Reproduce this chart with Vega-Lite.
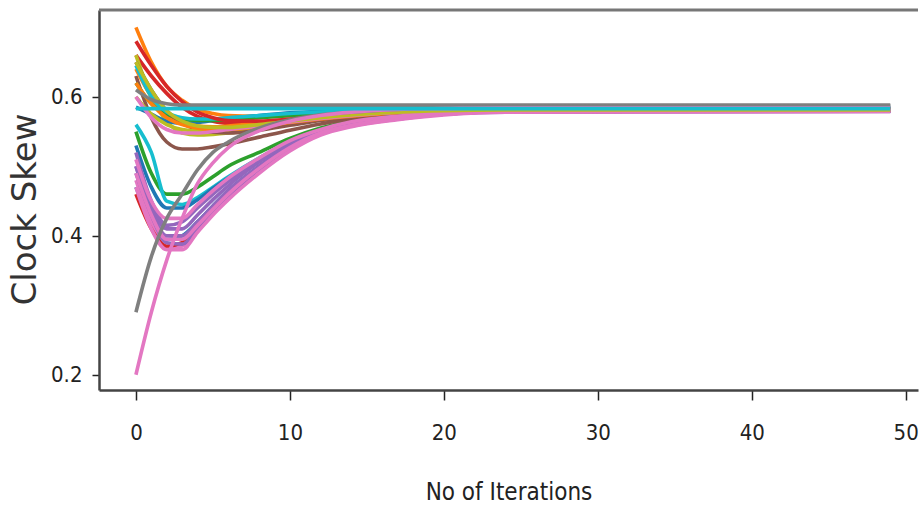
{
"$schema": "https://vega.github.io/schema/vega-lite/v6.json",
"width": 819, "height": 380,
"autosize": {"type": "none"},
"padding": {"left": 99, "top": 10, "right": 1, "bottom": 120},
"background": "white",
"config": {"view": {"stroke": null}, "axis": {"grid": false}},
"datasets": {
"pts": [
{"s":"a01","i":0,"v":0.47},{"s":"a01","i":1,"v":0.42},{"s":"a01","i":2,"v":0.395},{"s":"a01","i":3,"v":0.40},{"s":"a01","i":4,"v":0.42},{"s":"a01","i":5,"v":0.443},{"s":"a01","i":6,"v":0.465},{"s":"a01","i":8,"v":0.50},{"s":"a01","i":10,"v":0.53},{"s":"a01","i":12,"v":0.55},{"s":"a01","i":14,"v":0.561},{"s":"a01","i":17,"v":0.57},{"s":"a01","i":20,"v":0.576},{"s":"a01","i":24,"v":0.579},{"s":"a01","i":49,"v":0.58},
{"s":"a02","i":0,"v":0.70},{"s":"a02","i":1,"v":0.65},{"s":"a02","i":2,"v":0.615},{"s":"a02","i":3,"v":0.595},{"s":"a02","i":4,"v":0.582},{"s":"a02","i":5,"v":0.576},{"s":"a02","i":6,"v":0.573},{"s":"a02","i":8,"v":0.572},{"s":"a02","i":10,"v":0.574},{"s":"a02","i":12,"v":0.577},{"s":"a02","i":14,"v":0.579},{"s":"a02","i":17,"v":0.581},{"s":"a02","i":20,"v":0.582},{"s":"a02","i":24,"v":0.583},{"s":"a02","i":49,"v":0.583},
{"s":"a03","i":0,"v":0.55},{"s":"a03","i":1,"v":0.49},{"s":"a03","i":2,"v":0.46},{"s":"a03","i":3,"v":0.46},{"s":"a03","i":4,"v":0.47},{"s":"a03","i":5,"v":0.485},{"s":"a03","i":6,"v":0.50},{"s":"a03","i":8,"v":0.52},{"s":"a03","i":10,"v":0.54},{"s":"a03","i":12,"v":0.555},{"s":"a03","i":14,"v":0.565},{"s":"a03","i":17,"v":0.572},{"s":"a03","i":20,"v":0.577},{"s":"a03","i":24,"v":0.579},{"s":"a03","i":49,"v":0.58},
{"s":"a04","i":0,"v":0.66},{"s":"a04","i":1,"v":0.63},{"s":"a04","i":2,"v":0.605},{"s":"a04","i":3,"v":0.585},{"s":"a04","i":4,"v":0.572},{"s":"a04","i":5,"v":0.565},{"s":"a04","i":6,"v":0.562},{"s":"a04","i":8,"v":0.562},{"s":"a04","i":10,"v":0.566},{"s":"a04","i":12,"v":0.571},{"s":"a04","i":14,"v":0.575},{"s":"a04","i":17,"v":0.579},{"s":"a04","i":20,"v":0.581},{"s":"a04","i":24,"v":0.582},{"s":"a04","i":49,"v":0.582},
{"s":"a05","i":0,"v":0.50},{"s":"a05","i":1,"v":0.44},{"s":"a05","i":2,"v":0.41},{"s":"a05","i":3,"v":0.41},{"s":"a05","i":4,"v":0.43},{"s":"a05","i":5,"v":0.452},{"s":"a05","i":6,"v":0.472},{"s":"a05","i":8,"v":0.506},{"s":"a05","i":10,"v":0.534},{"s":"a05","i":12,"v":0.552},{"s":"a05","i":14,"v":0.563},{"s":"a05","i":17,"v":0.571},{"s":"a05","i":20,"v":0.576},{"s":"a05","i":24,"v":0.579},{"s":"a05","i":49,"v":0.58},
{"s":"a06","i":0,"v":0.63},{"s":"a06","i":1,"v":0.57},{"s":"a06","i":2,"v":0.535},{"s":"a06","i":3,"v":0.525},{"s":"a06","i":4,"v":0.525},{"s":"a06","i":5,"v":0.528},{"s":"a06","i":6,"v":0.532},{"s":"a06","i":8,"v":0.542},{"s":"a06","i":10,"v":0.552},{"s":"a06","i":12,"v":0.561},{"s":"a06","i":14,"v":0.568},{"s":"a06","i":17,"v":0.575},{"s":"a06","i":20,"v":0.579},{"s":"a06","i":24,"v":0.581},{"s":"a06","i":49,"v":0.582},
{"s":"a07","i":0,"v":0.48},{"s":"a07","i":1,"v":0.42},{"s":"a07","i":2,"v":0.385},{"s":"a07","i":3,"v":0.385},{"s":"a07","i":4,"v":0.408},{"s":"a07","i":5,"v":0.432},{"s":"a07","i":6,"v":0.455},{"s":"a07","i":8,"v":0.492},{"s":"a07","i":10,"v":0.524},{"s":"a07","i":12,"v":0.546},{"s":"a07","i":14,"v":0.558},{"s":"a07","i":17,"v":0.568},{"s":"a07","i":20,"v":0.575},{"s":"a07","i":24,"v":0.579},{"s":"a07","i":49,"v":0.58},
{"s":"a09","i":0,"v":0.66},{"s":"a09","i":1,"v":0.60},{"s":"a09","i":2,"v":0.565},{"s":"a09","i":3,"v":0.548},{"s":"a09","i":4,"v":0.545},{"s":"a09","i":5,"v":0.546},{"s":"a09","i":6,"v":0.548},{"s":"a09","i":8,"v":0.554},{"s":"a09","i":10,"v":0.561},{"s":"a09","i":12,"v":0.567},{"s":"a09","i":14,"v":0.572},{"s":"a09","i":17,"v":0.577},{"s":"a09","i":20,"v":0.58},{"s":"a09","i":24,"v":0.581},{"s":"a09","i":49,"v":0.581},
{"s":"a10","i":0,"v":0.56},{"s":"a10","i":1,"v":0.52},{"s":"a10","i":2,"v":0.45},{"s":"a10","i":3,"v":0.445},{"s":"a10","i":4,"v":0.455},{"s":"a10","i":5,"v":0.47},{"s":"a10","i":6,"v":0.485},{"s":"a10","i":8,"v":0.512},{"s":"a10","i":10,"v":0.535},{"s":"a10","i":12,"v":0.552},{"s":"a10","i":14,"v":0.563},{"s":"a10","i":17,"v":0.572},{"s":"a10","i":20,"v":0.577},{"s":"a10","i":24,"v":0.58},{"s":"a10","i":49,"v":0.581},
{"s":"b01","i":0,"v":0.585},{"s":"b01","i":1,"v":0.575},{"s":"b01","i":2,"v":0.565},{"s":"b01","i":3,"v":0.562},{"s":"b01","i":4,"v":0.563},{"s":"b01","i":5,"v":0.566},{"s":"b01","i":6,"v":0.569},{"s":"b01","i":8,"v":0.573},{"s":"b01","i":10,"v":0.577},{"s":"b01","i":12,"v":0.579},{"s":"b01","i":14,"v":0.58},{"s":"b01","i":17,"v":0.582},{"s":"b01","i":20,"v":0.583},{"s":"b01","i":24,"v":0.583},{"s":"b01","i":49,"v":0.583},
{"s":"b02","i":0,"v":0.64},{"s":"b02","i":1,"v":0.60},{"s":"b02","i":2,"v":0.575},{"s":"b02","i":3,"v":0.563},{"s":"b02","i":4,"v":0.558},{"s":"b02","i":5,"v":0.557},{"s":"b02","i":6,"v":0.558},{"s":"b02","i":8,"v":0.562},{"s":"b02","i":10,"v":0.567},{"s":"b02","i":12,"v":0.571},{"s":"b02","i":14,"v":0.575},{"s":"b02","i":17,"v":0.579},{"s":"b02","i":20,"v":0.581},{"s":"b02","i":24,"v":0.582},{"s":"b02","i":49,"v":0.582},
{"s":"b03","i":0,"v":0.62},{"s":"b03","i":1,"v":0.59},{"s":"b03","i":2,"v":0.575},{"s":"b03","i":3,"v":0.568},{"s":"b03","i":4,"v":0.566},{"s":"b03","i":5,"v":0.566},{"s":"b03","i":6,"v":0.567},{"s":"b03","i":8,"v":0.57},{"s":"b03","i":10,"v":0.573},{"s":"b03","i":12,"v":0.576},{"s":"b03","i":14,"v":0.578},{"s":"b03","i":17,"v":0.58},{"s":"b03","i":20,"v":0.581},{"s":"b03","i":24,"v":0.581},{"s":"b03","i":49,"v":0.581},
{"s":"b04","i":0,"v":0.46},{"s":"b04","i":1,"v":0.41},{"s":"b04","i":2,"v":0.385},{"s":"b04","i":3,"v":0.39},{"s":"b04","i":4,"v":0.412},{"s":"b04","i":5,"v":0.436},{"s":"b04","i":6,"v":0.458},{"s":"b04","i":8,"v":0.496},{"s":"b04","i":10,"v":0.527},{"s":"b04","i":12,"v":0.548},{"s":"b04","i":14,"v":0.56},{"s":"b04","i":17,"v":0.569},{"s":"b04","i":20,"v":0.575},{"s":"b04","i":24,"v":0.579},{"s":"b04","i":49,"v":0.58},
{"s":"b05","i":0,"v":0.49},{"s":"b05","i":1,"v":0.43},{"s":"b05","i":2,"v":0.39},{"s":"b05","i":3,"v":0.388},{"s":"b05","i":4,"v":0.41},{"s":"b05","i":5,"v":0.435},{"s":"b05","i":6,"v":0.457},{"s":"b05","i":8,"v":0.494},{"s":"b05","i":10,"v":0.525},{"s":"b05","i":12,"v":0.547},{"s":"b05","i":14,"v":0.559},{"s":"b05","i":17,"v":0.568},{"s":"b05","i":20,"v":0.575},{"s":"b05","i":24,"v":0.578},{"s":"b05","i":49,"v":0.579},
{"s":"b06","i":0,"v":0.65},{"s":"b06","i":1,"v":0.61},{"s":"b06","i":2,"v":0.58},{"s":"b06","i":3,"v":0.562},{"s":"b06","i":4,"v":0.553},{"s":"b06","i":5,"v":0.549},{"s":"b06","i":6,"v":0.548},{"s":"b06","i":8,"v":0.552},{"s":"b06","i":10,"v":0.559},{"s":"b06","i":12,"v":0.566},{"s":"b06","i":14,"v":0.571},{"s":"b06","i":17,"v":0.577},{"s":"b06","i":20,"v":0.58},{"s":"b06","i":24,"v":0.582},{"s":"b06","i":49,"v":0.582},
{"s":"b09","i":0,"v":0.60},{"s":"b09","i":1,"v":0.575},{"s":"b09","i":2,"v":0.56},{"s":"b09","i":3,"v":0.553},{"s":"b09","i":4,"v":0.551},{"s":"b09","i":5,"v":0.552},{"s":"b09","i":6,"v":0.554},{"s":"b09","i":8,"v":0.559},{"s":"b09","i":10,"v":0.565},{"s":"b09","i":12,"v":0.57},{"s":"b09","i":14,"v":0.574},{"s":"b09","i":17,"v":0.578},{"s":"b09","i":20,"v":0.58},{"s":"b09","i":24,"v":0.581},{"s":"b09","i":49,"v":0.581},
{"s":"b10","i":0,"v":0.645},{"s":"b10","i":1,"v":0.60},{"s":"b10","i":2,"v":0.578},{"s":"b10","i":3,"v":0.57},{"s":"b10","i":4,"v":0.568},{"s":"b10","i":5,"v":0.568},{"s":"b10","i":6,"v":0.57},{"s":"b10","i":8,"v":0.573},{"s":"b10","i":10,"v":0.576},{"s":"b10","i":12,"v":0.578},{"s":"b10","i":14,"v":0.58},{"s":"b10","i":17,"v":0.582},{"s":"b10","i":20,"v":0.584},{"s":"b10","i":24,"v":0.585},{"s":"b10","i":49,"v":0.585},
{"s":"c01","i":0,"v":0.53},{"s":"c01","i":1,"v":0.47},{"s":"c01","i":2,"v":0.44},{"s":"c01","i":3,"v":0.44},{"s":"c01","i":4,"v":0.452},{"s":"c01","i":5,"v":0.468},{"s":"c01","i":6,"v":0.483},{"s":"c01","i":8,"v":0.51},{"s":"c01","i":10,"v":0.533},{"s":"c01","i":12,"v":0.55},{"s":"c01","i":14,"v":0.562},{"s":"c01","i":17,"v":0.571},{"s":"c01","i":20,"v":0.576},{"s":"c01","i":24,"v":0.579},{"s":"c01","i":49,"v":0.58},
{"s":"c02","i":0,"v":0.62},{"s":"c02","i":1,"v":0.59},{"s":"c02","i":2,"v":0.57},{"s":"c02","i":3,"v":0.56},{"s":"c02","i":4,"v":0.555},{"s":"c02","i":5,"v":0.553},{"s":"c02","i":6,"v":0.553},{"s":"c02","i":8,"v":0.557},{"s":"c02","i":10,"v":0.563},{"s":"c02","i":12,"v":0.568},{"s":"c02","i":14,"v":0.572},{"s":"c02","i":17,"v":0.577},{"s":"c02","i":20,"v":0.58},{"s":"c02","i":24,"v":0.581},{"s":"c02","i":49,"v":0.581},
{"s":"c04","i":0,"v":0.68},{"s":"c04","i":1,"v":0.645},{"s":"c04","i":2,"v":0.615},{"s":"c04","i":3,"v":0.593},{"s":"c04","i":4,"v":0.578},{"s":"c04","i":5,"v":0.57},{"s":"c04","i":6,"v":0.566},{"s":"c04","i":8,"v":0.565},{"s":"c04","i":10,"v":0.568},{"s":"c04","i":12,"v":0.572},{"s":"c04","i":14,"v":0.576},{"s":"c04","i":17,"v":0.579},{"s":"c04","i":20,"v":0.581},{"s":"c04","i":24,"v":0.582},{"s":"c04","i":49,"v":0.582},
{"s":"c05","i":0,"v":0.52},{"s":"c05","i":1,"v":0.45},{"s":"c05","i":2,"v":0.415},{"s":"c05","i":3,"v":0.42},{"s":"c05","i":4,"v":0.44},{"s":"c05","i":5,"v":0.46},{"s":"c05","i":6,"v":0.478},{"s":"c05","i":8,"v":0.508},{"s":"c05","i":10,"v":0.533},{"s":"c05","i":12,"v":0.55},{"s":"c05","i":14,"v":0.562},{"s":"c05","i":17,"v":0.57},{"s":"c05","i":20,"v":0.576},{"s":"c05","i":24,"v":0.579},{"s":"c05","i":49,"v":0.58},
{"s":"c10","i":0,"v":0.50},{"s":"c10","i":1,"v":0.435},{"s":"c10","i":2,"v":0.40},{"s":"c10","i":3,"v":0.40},{"s":"c10","i":4,"v":0.42},{"s":"c10","i":5,"v":0.443},{"s":"c10","i":6,"v":0.465},{"s":"c10","i":8,"v":0.50},{"s":"c10","i":10,"v":0.53},{"s":"c10","i":12,"v":0.549},{"s":"c10","i":14,"v":0.56},{"s":"c10","i":17,"v":0.569},{"s":"c10","i":20,"v":0.575},{"s":"c10","i":24,"v":0.579},{"s":"c10","i":49,"v":0.58},
{"s":"c06","i":0,"v":0.47},{"s":"c06","i":1,"v":0.41},{"s":"c06","i":2,"v":0.38},{"s":"c06","i":3,"v":0.38},{"s":"c06","i":4,"v":0.405},{"s":"c06","i":5,"v":0.43},{"s":"c06","i":6,"v":0.452},{"s":"c06","i":8,"v":0.49},{"s":"c06","i":10,"v":0.522},{"s":"c06","i":12,"v":0.545},{"s":"c06","i":14,"v":0.557},{"s":"c06","i":17,"v":0.567},{"s":"c06","i":20,"v":0.574},{"s":"c06","i":24,"v":0.578},{"s":"c06","i":49,"v":0.579},
{"s":"c11","i":0,"v":0.49},{"s":"c11","i":1,"v":0.43},{"s":"c11","i":2,"v":0.395},{"s":"c11","i":3,"v":0.395},{"s":"c11","i":4,"v":0.415},{"s":"c11","i":5,"v":0.438},{"s":"c11","i":6,"v":0.46},{"s":"c11","i":8,"v":0.497},{"s":"c11","i":10,"v":0.527},{"s":"c11","i":12,"v":0.548},{"s":"c11","i":14,"v":0.559},{"s":"c11","i":17,"v":0.568},{"s":"c11","i":20,"v":0.575},{"s":"c11","i":24,"v":0.579},{"s":"c11","i":49,"v":0.58},
{"s":"c07","i":0,"v":0.51},{"s":"c07","i":1,"v":0.45},{"s":"c07","i":2,"v":0.425},{"s":"c07","i":3,"v":0.425},{"s":"c07","i":4,"v":0.445},{"s":"c07","i":5,"v":0.465},{"s":"c07","i":6,"v":0.483},{"s":"c07","i":8,"v":0.512},{"s":"c07","i":10,"v":0.537},{"s":"c07","i":12,"v":0.553},{"s":"c07","i":14,"v":0.564},{"s":"c07","i":17,"v":0.572},{"s":"c07","i":20,"v":0.577},{"s":"c07","i":24,"v":0.579},{"s":"c07","i":49,"v":0.58},
{"s":"c08","i":0,"v":0.60},{"s":"c08","i":1,"v":0.57},{"s":"c08","i":2,"v":0.553},{"s":"c08","i":3,"v":0.548},{"s":"c08","i":4,"v":0.548},{"s":"c08","i":5,"v":0.55},{"s":"c08","i":6,"v":0.553},{"s":"c08","i":8,"v":0.558},{"s":"c08","i":10,"v":0.564},{"s":"c08","i":12,"v":0.569},{"s":"c08","i":14,"v":0.573},{"s":"c08","i":17,"v":0.578},{"s":"c08","i":20,"v":0.58},{"s":"c08","i":24,"v":0.581},{"s":"c08","i":49,"v":0.581},
{"s":"c09","i":0,"v":0.65},{"s":"c09","i":1,"v":0.61},{"s":"c09","i":2,"v":0.58},{"s":"c09","i":3,"v":0.565},{"s":"c09","i":4,"v":0.558},{"s":"c09","i":5,"v":0.556},{"s":"c09","i":6,"v":0.556},{"s":"c09","i":8,"v":0.56},{"s":"c09","i":10,"v":0.565},{"s":"c09","i":12,"v":0.57},{"s":"c09","i":14,"v":0.574},{"s":"c09","i":17,"v":0.578},{"s":"c09","i":20,"v":0.58},{"s":"c09","i":24,"v":0.581},{"s":"c09","i":49,"v":0.581},
{"s":"d01","i":0,"v":0.61},{"s":"d01","i":1,"v":0.596},{"s":"d01","i":2,"v":0.59},{"s":"d01","i":3,"v":0.588},{"s":"d01","i":4,"v":0.588},{"s":"d01","i":5,"v":0.588},{"s":"d01","i":6,"v":0.588},{"s":"d01","i":8,"v":0.588},{"s":"d01","i":10,"v":0.588},{"s":"d01","i":12,"v":0.588},{"s":"d01","i":14,"v":0.588},{"s":"d01","i":17,"v":0.588},{"s":"d01","i":20,"v":0.588},{"s":"d01","i":24,"v":0.588},{"s":"d01","i":49,"v":0.588},
{"s":"d02","i":0,"v":0.29},{"s":"d02","i":1,"v":0.37},{"s":"d02","i":2,"v":0.425},{"s":"d02","i":3,"v":0.46},{"s":"d02","i":4,"v":0.495},{"s":"d02","i":5,"v":0.52},{"s":"d02","i":6,"v":0.535},{"s":"d02","i":8,"v":0.555},{"s":"d02","i":10,"v":0.567},{"s":"d02","i":12,"v":0.574},{"s":"d02","i":14,"v":0.578},{"s":"d02","i":17,"v":0.582},{"s":"d02","i":20,"v":0.584},{"s":"d02","i":24,"v":0.586},{"s":"d02","i":49,"v":0.587},
{"s":"d03","i":0,"v":0.20},{"s":"d03","i":1,"v":0.29},{"s":"d03","i":2,"v":0.365},{"s":"d03","i":3,"v":0.425},{"s":"d03","i":4,"v":0.475},{"s":"d03","i":5,"v":0.505},{"s":"d03","i":6,"v":0.527},{"s":"d03","i":8,"v":0.551},{"s":"d03","i":10,"v":0.565},{"s":"d03","i":12,"v":0.573},{"s":"d03","i":14,"v":0.578},{"s":"d03","i":17,"v":0.582},{"s":"d03","i":20,"v":0.583},{"s":"d03","i":24,"v":0.584},{"s":"d03","i":49,"v":0.584},
{"s":"d04","i":0,"v":0.583},{"s":"d04","i":1,"v":0.583},{"s":"d04","i":2,"v":0.583},{"s":"d04","i":3,"v":0.583},{"s":"d04","i":4,"v":0.583},{"s":"d04","i":5,"v":0.583},{"s":"d04","i":6,"v":0.583},{"s":"d04","i":8,"v":0.583},{"s":"d04","i":10,"v":0.583},{"s":"d04","i":12,"v":0.583},{"s":"d04","i":14,"v":0.583},{"s":"d04","i":17,"v":0.583},{"s":"d04","i":20,"v":0.583},{"s":"d04","i":24,"v":0.583},{"s":"d04","i":49,"v":0.583}
],
"frame": [{"edge": "top"}]
},
"layer": [
{
"data": {"name": "pts"},
"mark": {"type": "line", "strokeWidth": 3.6, "interpolate": "monotone", "clip": true},
"encoding": {
"x": {"field": "i", "type": "quantitative",
"scale": {"domain": [-2.4, 50.8], "nice": false, "zero": false},
"axis": {"values": [0, 10, 20, 30, 40, 50], "labelFont": "DejaVu Sans Condensed", "labelFontSize": 22, "labelColor": "#222", "labelPadding": 22, "tickSize": 10, "tickColor": "#222", "tickWidth": 1.5, "domainColor": "#444", "domainWidth": 2.5, "title": "No of Iterations", "titleFont": "DejaVu Sans Condensed", "titleFontSize": 24, "titleFontWeight": "normal", "titleColor": "#222", "titleY": 102, "titleBaseline": "middle"}},
"y": {"field": "v", "type": "quantitative",
"scale": {"domain": [0.178, 0.725], "nice": false, "zero": false},
"axis": {"values": [0.2, 0.4, 0.6], "format": ".1f", "labelFont": "DejaVu Sans Condensed", "labelFontSize": 22, "labelColor": "#222", "labelPadding": 10, "tickSize": 7, "tickColor": "#222", "tickWidth": 1.5, "domainColor": "#444", "domainWidth": 2.5, "title": "Clock Skew", "titleFont": "DejaVu Sans", "titleFontSize": 34, "titleFontWeight": "normal", "titleColor": "#333", "titleAngle": 270, "titleX": -74, "titleY": 199, "titleAlign": "center", "titleBaseline": "middle"}},
"color": {"field": "s", "type": "nominal", "legend": null,
"scale": {"domain": ["a01","a02","a03","a04","a05","a06","a07","a09","a10","b01","b02","b03","b04","b05","b06","b09","b10","c01","c02","c04","c05","c10","c06","c11","c07","c08","c09","d01","d02","d03","d04"],
"range": ["#1f77b4","#ff7f0e","#2ca02c","#d62728","#9467bd","#8c564b","#e377c2","#bcbd22","#17becf","#1f77b4","#ff7f0e","#2ca02c","#d62728","#9467bd","#8c564b","#bcbd22","#17becf","#1f77b4","#ff7f0e","#d62728","#9467bd","#9467bd","#e377c2","#e377c2","#e377c2","#e377c2","#bcbd22","#7f7f7f","#7f7f7f","#e377c2","#17becf"]}}
}
},
{
"data": {"name": "frame"},
"mark": {"type": "rule", "color": "#777", "strokeWidth": 3},
"encoding": {"y": {"datum": 0.725}}
}
]
}
